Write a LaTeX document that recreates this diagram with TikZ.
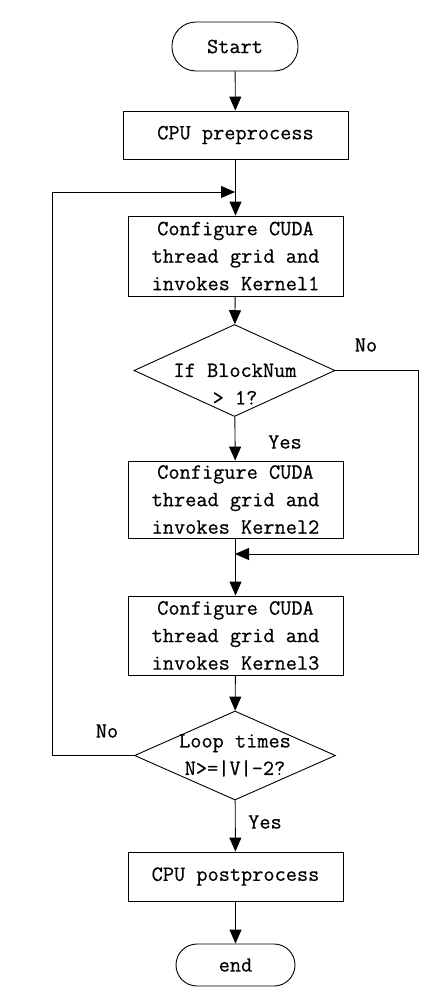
\documentclass[tikz,border=0pt]{standalone}
\usepackage{fontspec}
\setmonofont{Latin Modern Mono}[FakeBold=0.5]
\usetikzlibrary{arrows.meta,shapes.geometric}
\begin{document}
\begin{tikzpicture}[x=1pt,y=-1pt,
  every node/.style={font=\ttfamily\fontsize{21.7}{27.5}\selectfont, inner sep=0pt},
  line/.style={draw, line width=0.9pt},
  arr/.style={line, -{Triangle[length=14pt,width=12pt]}},
  procbox/.style={draw, line width=0.9pt, rectangle, minimum width=215pt, align=center},
  termbox/.style={draw, line width=0.9pt, rectangle, rounded corners=#1, align=center},
  dia/.style={draw, line width=0.9pt, diamond, minimum width=201pt, minimum height=92pt},
  lbl/.style={align=center}
]
\useasboundingbox (0,0) rectangle (436,994);
\node[termbox=24pt, minimum width=126pt, minimum height=49pt] (start) at (235,46.5) {Start};
\node[procbox, minimum width=225pt, minimum height=48pt] (pre) at (235.5,135) {CPU preprocess};
\node[procbox, minimum height=80pt] (k1) at (235.5,256) {Configure CUDA\\thread grid and\\invokes Kernel1};
\node[dia] (d1) at (234.5,370.5) {};
\node[lbl] (d1t) at (235,384) {If BlockNum\\> 1?};
\node[procbox, minimum height=77pt] (k2) at (235.5,499.5) {Configure CUDA\\thread grid and\\invokes Kernel2};
\node[procbox, minimum height=79pt] (k3) at (235.5,635.5) {Configure CUDA\\thread grid and\\invokes Kernel3};
\node[dia, minimum height=89pt] (d2) at (235,755.5) {};
\node[lbl] (d2t) at (235,755.5) {Loop times\\N>=|V|-2?};
\node[procbox, minimum height=49pt] (post) at (235.5,876.5) {CPU postprocess};
\node[termbox=21pt, minimum width=119pt, minimum height=42pt] (end) at (235.5,965) {end};

\coordinate (m1) at (235,192);
\coordinate (ltop) at (52,192);
\coordinate (m2) at (235,554);
\coordinate (rtop) at (418,370.5);

\draw[arr] (start) -- (pre);
\draw[arr] (pre) -- (k1);
\draw[arr] (k1) -- (d1);
\draw[arr] (d1) -- (k2);
\draw[arr] (k2) -- (k3);
\draw[arr] (k3) -- (d2);
\draw[arr] (d2) -- (post);
\draw[arr] (post) -- (end);
\draw[arr] (d2.west) -| (ltop) -- (m1);
\draw[arr] (d1.east) -- (rtop) |- (m2);

\node[lbl] (no1) at (366,345) {No};
\node[lbl] (yes1) at (285,442) {Yes};
\node[lbl] (no2) at (107,731) {No};
\node[lbl] (yes2) at (265,822) {Yes};
\end{tikzpicture}
\end{document}
